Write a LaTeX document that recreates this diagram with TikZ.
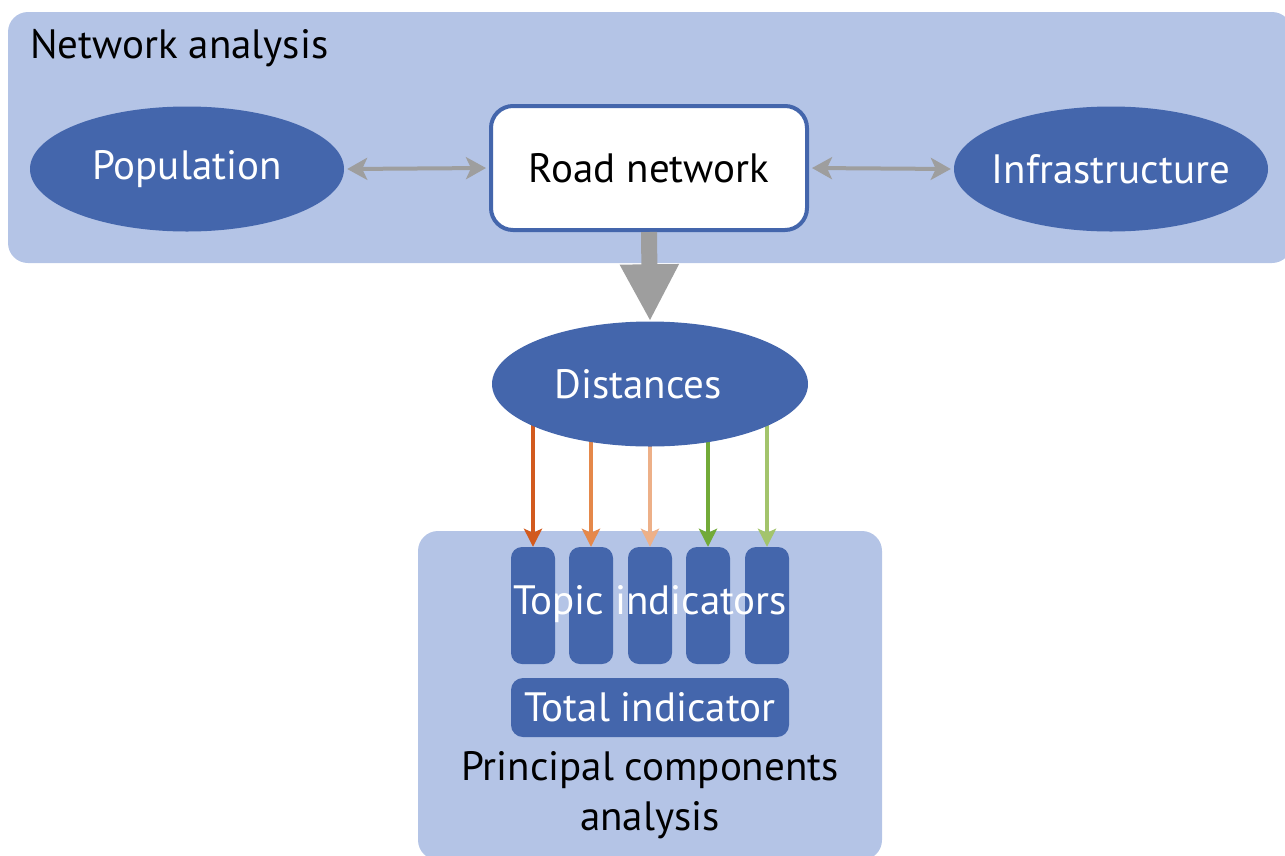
\documentclass[tikz,border=0pt]{standalone}
\usepackage{fontspec}
\setmainfont{PT Sans}
\usetikzlibrary{shapes.geometric,arrows.meta}
\pgfdeclarelayer{bg}
\pgfdeclarelayer{back}
\pgfsetlayers{bg,back,main}
\definecolor{bglight}{HTML}{B4C4E6}
\definecolor{dblue}{HTML}{4466AC}
\definecolor{agray}{HTML}{9E9E9E}
\definecolor{c1}{HTML}{D25A1E}
\definecolor{c2}{HTML}{E5884A}
\definecolor{c3}{HTML}{EDB088}
\definecolor{c4}{HTML}{72AA38}
\definecolor{c5}{HTML}{A3C46C}
\tikzset{
  bigfont/.style={font=\fontsize{41}{46}\selectfont},
  bgpanel/.style={fill=bglight, rounded corners=20pt, draw=none},
  oval/.style={ellipse, fill=dblue, draw=none, text=white, minimum width=314pt, minimum height=125pt, inner sep=0pt, bigfont},
  roadbox/.style={rectangle, rounded corners=22pt, fill=white, draw=dblue, line width=4pt, minimum width=316pt, minimum height=124pt, inner sep=0pt, bigfont},
  topicbox/.style={rectangle, rounded corners=11pt, fill=dblue, minimum width=44pt, minimum height=117pt, inner sep=0pt},
  totalbox/.style={rectangle, rounded corners=12pt, fill=dblue, text=white, minimum width=278pt, minimum height=59pt, inner sep=0pt, bigfont},
  dblarrow/.style={draw=agray, line width=4pt, {Stealth[length=20pt,width=22pt,inset=5pt]}-{Stealth[length=20pt,width=22pt,inset=5pt]}},
  colarrow/.style={line width=3.5pt, -{Stealth[length=18pt,width=18pt,inset=4pt]}},
}
\begin{document}
\begin{tikzpicture}[x=1pt,y=-1pt]
\useasboundingbox (0,0) rectangle (1285,855);
% panels
\begin{pgfonlayer}{bg}
\fill[bgpanel] (8,12) rectangle (1292,263);
\fill[bgpanel] (418,531) rectangle (882,860);
\end{pgfonlayer}
\node[anchor=base west, inner sep=0pt, bigfont] (title) at (30,58) {Network analysis};
% top row
\node[oval] (pop) at (187,169) {\makebox[0pt]{Population}};
\node[roadbox] (road) at (649,168) {Road network};
\node[oval] (infra) at (1111,169) {\makebox[0pt]{Infrastructure}};
\draw[dblarrow] ([xshift=3pt]pop.east) -- ([xshift=-3pt]road.west);
\draw[dblarrow] ([xshift=3pt]road.east) -- ([xshift=-3pt]infra.west);
% distances
\node[oval, minimum width=316pt] (dist) at (650,384) {\makebox[0pt]{\hspace*{-24pt}Distances}};
\draw[agray, line width=16pt, -{Triangle[width=55pt,length=57pt]}] (road.south) -- (dist.north);
% topic boxes
\node[topicbox] (t1) at (533,605.5) {};
\node[topicbox] (t2) at (591,605.5) {};
\node[topicbox] (t3) at (650,605.5) {};
\node[topicbox] (t4) at (708,605.5) {};
\node[topicbox] (t5) at (767,605.5) {};
\node[text=white, inner sep=0pt, bigfont] (topic) at (650,604) {Topic indicators};
\node[totalbox] (total) at (650,707.5) {Total indicator};
\node[align=center, inner sep=0pt, font=\fontsize{41}{50}\selectfont] (pca) at (650,795) {Principal components\\analysis};
% colored arrows
\begin{pgfonlayer}{back}
\foreach \i/\c in {1/c1,2/c2,3/c3,4/c4,5/c5}{
  \draw[colarrow, draw=\c, fill=\c] (t\i.north |- dist.center) -- (t\i.north);
}
\end{pgfonlayer}
\end{tikzpicture}
\end{document}
